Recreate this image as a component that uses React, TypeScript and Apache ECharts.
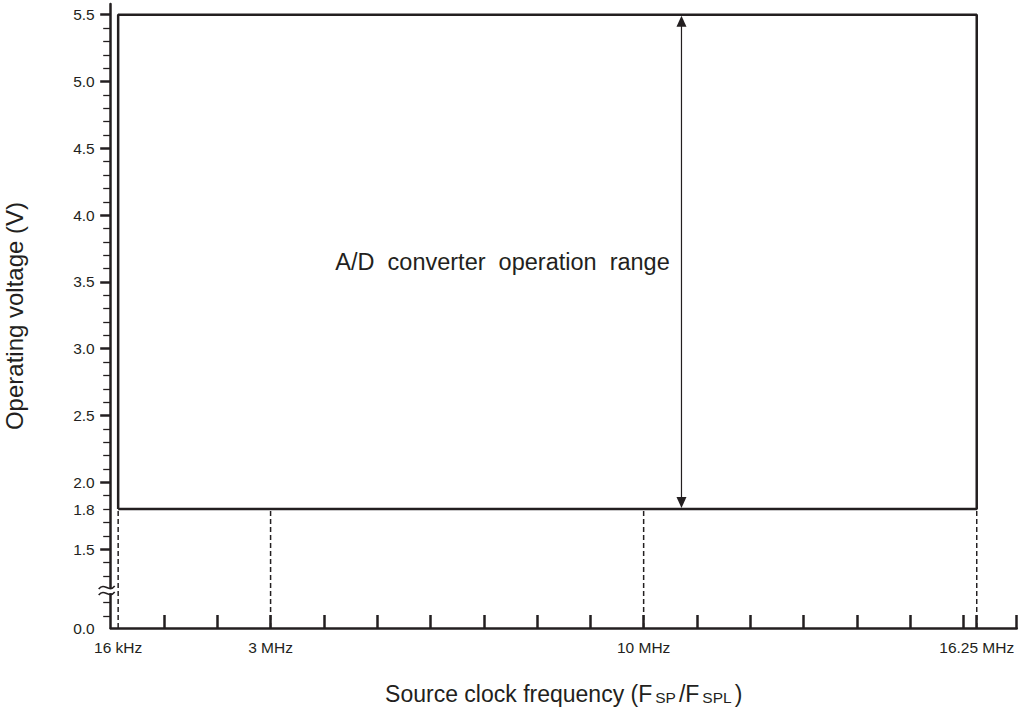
import React, { useEffect, useRef } from "react";
import * as echarts from "echarts";

// ---- data (schematic positions) ----
const xTickLabels = ["16 kHz", "3 MHz", "10 MHz", "16.25 MHz"];
const xTickPositions = [0.14, 3, 10, 16.25]; // MHz (16 kHz is drawn just right of the origin)
const xTickMarks = [1, 2, 3, 4, 5, 6, 7, 8, 9, 10, 11, 12, 13, 14, 15, 16, 16.25, 17];

const yLabelTexts = ["0.0", "1.5", "1.8", "2.0", "2.5", "3.0", "3.5", "4.0", "4.5", "5.0", "5.5"];
const yLabelPositions = [0.91, 1.5, 1.8, 2.0, 2.5, 3.0, 3.5, 4.0, 4.5, 5.0, 5.5];
const yMajorTicks = [1.5, 2.0, 2.5, 3.0, 3.5, 4.0, 4.5, 5.0, 5.5];
const yMinorTicks = [
  1.0, 1.1, 1.3, 1.4, 1.6, 1.7, 1.8, 1.9, 2.1, 2.2, 2.3, 2.4, 2.6, 2.7, 2.8, 2.9,
  3.1, 3.2, 3.3, 3.4, 3.6, 3.7, 3.8, 3.9, 4.1, 4.2, 4.3, 4.4, 4.6, 4.7, 4.8, 4.9,
  5.1, 5.2, 5.3, 5.4,
];

const rangeFreq = [0.14, 16.25]; // operation range: frequency limits
const rangeVolt = [1.8, 5.5]; // operation range: voltage limits
const dropLineFreqs = [0.14, 3, 10, 16.25];
const arrowFreq = [10.71];
const axisBreakVolt = [1.19];
const annotationText = "A/D\u00a0\u00a0converter\u00a0\u00a0operation\u00a0\u00a0range";
const annotationPos = [10.49, 3.65];

const X_MIN = 0;
const X_MAX = 17;
const Y_MIN = 0.91; // drawn position of 0.0 V (broken axis)
const Y_MAX = 5.58;

const INK = "#231f20";
const FONT = "'Liberation Sans', Arial, Helvetica, sans-serif";

function labelFor(values: number[], texts: string[], v: number): string {
  const i = values.findIndex((p) => Math.abs(p - v) < 1e-6);
  return i >= 0 ? texts[i] : "";
}

export default function App() {
  const ref = useRef<HTMLDivElement>(null);

  useEffect(() => {
    if (!ref.current) return;
    const chart = echarts.init(ref.current, null, { renderer: "svg" });

    const boxData = [
      [rangeFreq[0], rangeVolt[0]],
      [rangeFreq[0], rangeVolt[1]],
      [rangeFreq[1], rangeVolt[1]],
      [rangeFreq[1], rangeVolt[0]],
      [rangeFreq[0], rangeVolt[0]],
    ];

    const dropSeries = dropLineFreqs.map((f) => ({
      type: "line",
      data: [
        [f, Y_MIN],
        [f, rangeVolt[0]],
      ],
      showSymbol: false,
      silent: true,
      z: 2,
      lineStyle: { color: INK, width: 1.5, type: [5, 3] },
    }));

    const option: any = {
      animation: false,
      backgroundColor: "#ffffff",
      textStyle: { fontFamily: FONT, color: INK },
      grid: {
        left: 110.7,
        right: 4.3,
        top: 4,
        bottom: 80,
        containLabel: false,
        outerBoundsMode: "none",
      },
      xAxis: {
        type: "value",
        min: X_MIN,
        max: X_MAX,
        name: "{m|Source clock frequency (F}{s|SP}{m|/F}{s|SPL}{m|)}",
        nameLocation: "middle",
        nameGap: 51,
        nameTextStyle: {
          fontFamily: FONT,
          fontSize: 23,
          color: INK,
          rich: {
            m: { fontFamily: FONT, fontSize: 23, color: INK, verticalAlign: "bottom", lineHeight: 26 },
            s: {
              fontFamily: FONT,
              fontSize: 15.5,
              color: INK,
              verticalAlign: "bottom",
              lineHeight: 26,
              padding: [0, 3, 0, 3],
            },
          },
        },
        splitLine: { show: false },
        axisLine: { show: true, onZero: false, lineStyle: { color: INK, width: 2.5 } },
        axisTick: {
          show: true,
          inside: true,
          length: 13,
          customValues: xTickMarks,
          lineStyle: { color: INK, width: 2.5 },
        },
        axisLabel: {
          show: true,
          customValues: xTickPositions,
          margin: 11,
          fontFamily: FONT,
          fontSize: 15.5,
          color: INK,
          formatter: (v: number) => labelFor(xTickPositions, xTickLabels, v),
        },
      },
      yAxis: [
        {
          type: "value",
          min: Y_MIN,
          max: Y_MAX,
          position: "left",
          name: "Operating voltage (V)",
          nameLocation: "middle",
          nameGap: 84,
          nameTextStyle: { fontFamily: FONT, fontSize: 24, color: INK },
          splitLine: { show: false },
          axisLine: { show: true, onZero: false, lineStyle: { color: INK, width: 2.5 } },
          axisTick: {
            show: true,
            inside: false,
            length: 10.5,
            customValues: yMajorTicks,
            lineStyle: { color: INK, width: 2.5 },
          },
          axisLabel: {
            show: true,
            customValues: yLabelPositions,
            margin: 16,
            fontFamily: FONT,
            fontSize: 15.5,
            color: INK,
            formatter: (v: number) => labelFor(yLabelPositions, yLabelTexts, v),
          },
        },
        {
          type: "value",
          min: Y_MIN,
          max: Y_MAX,
          position: "left",
          offset: 0,
          splitLine: { show: false },
          axisLine: { show: false, onZero: false },
          axisTick: {
            show: true,
            inside: false,
            length: 7.5,
            customValues: yMinorTicks,
            lineStyle: { color: INK, width: 1.3 },
          },
          axisLabel: { show: false },
        },
      ],
      series: [
        {
          type: "line",
          data: boxData,
          showSymbol: false,
          silent: true,
          z: 3,
          lineStyle: { color: INK, width: 2.5 },
        },
        ...dropSeries,
        {
          type: "custom",
          silent: true,
          z: 4,
          data: arrowFreq.map((f) => [f, rangeVolt[0], rangeVolt[1]]),
          renderItem: (_params: any, api: any) => {
            const x = api.value(0);
            const pLow = api.coord([x, api.value(1)]);
            const pHigh = api.coord([x, api.value(2)]);
            const hw = 5;
            const hh = 12;
            return {
              type: "group",
              children: [
                {
                  type: "line",
                  shape: { x1: pLow[0], y1: pLow[1] - 4, x2: pHigh[0], y2: pHigh[1] + 4 },
                  style: { stroke: INK, lineWidth: 1.2 },
                },
                {
                  type: "polygon",
                  shape: {
                    points: [
                      [pHigh[0], pHigh[1] + 1],
                      [pHigh[0] - hw, pHigh[1] + hh],
                      [pHigh[0] + hw, pHigh[1] + hh],
                    ],
                  },
                  style: { fill: INK },
                },
                {
                  type: "polygon",
                  shape: {
                    points: [
                      [pLow[0], pLow[1] - 1],
                      [pLow[0] - hw, pLow[1] - hh],
                      [pLow[0] + hw, pLow[1] - hh],
                    ],
                  },
                  style: { fill: INK },
                },
              ],
            };
          },
        },
        {
          type: "custom",
          silent: true,
          z: 4,
          data: [annotationPos],
          renderItem: (_params: any, api: any) => {
            const p = api.coord([api.value(0), api.value(1)]);
            return {
              type: "text",
              x: p[0],
              y: p[1],
              style: {
                text: annotationText,
                align: "right",
                verticalAlign: "middle",
                fontSize: 23.5,
                fontFamily: FONT,
                fill: INK,
              },
            };
          },
        },
        {
          type: "custom",
          silent: true,
          z: 6,
          data: axisBreakVolt.map((v) => [X_MIN, v]),
          renderItem: (_params: any, api: any) => {
            const p = api.coord([api.value(0), api.value(1)]);
            const cx = p[0] - 4;
            const cy = p[1];
            const wave = (dy: number) => ({
              type: "bezierCurve",
              shape: {
                x1: cx - 8,
                y1: cy + dy + 1.5,
                cpx1: cx - 2,
                cpy1: cy + dy - 6,
                cpx2: cx + 2,
                cpy2: cy + dy + 6,
                x2: cx + 8,
                y2: cy + dy - 1.5,
              },
              style: { stroke: INK, lineWidth: 1.6, fill: null },
            });
            return {
              type: "group",
              children: [
                {
                  type: "rect",
                  shape: { x: p[0] - 3, y: cy - 2.5, width: 6, height: 5 },
                  style: { fill: "#ffffff" },
                },
                wave(-3),
                wave(3),
              ],
            };
          },
        },
      ],
    };

    chart.setOption(option);
    return () => chart.dispose();
  }, []);

  return (
    <div
      ref={ref}
      style={{
        position: "fixed",
        left: 0,
        top: 0,
        width: 1021,
        height: 708,
        background: "#ffffff",
      }}
    />
  );
}
